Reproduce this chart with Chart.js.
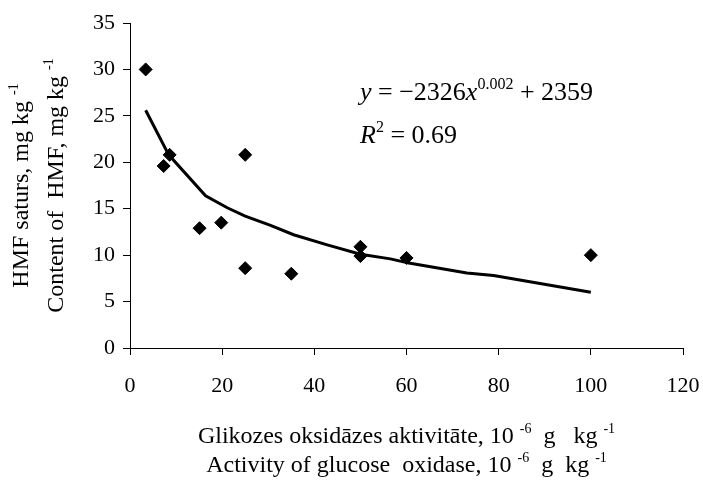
<!DOCTYPE html>
<html>
<head>
<meta charset="utf-8">
<script src="https://cdn.jsdelivr.net/npm/chart.js@4.4.0/dist/chart.umd.min.js"></script>
<style>
  body { margin: 0; background: #fff; }
  #wrap { width: 703px; height: 481px; }
</style>
</head>
<body>
<div id="wrap"><canvas id="chart" width="703" height="481"></canvas></div>
<script>
// measured points: glucose oxidase activity vs HMF content
const activity = [3.4, 7.3, 8.6, 15.1, 19.8, 25, 25, 35, 50, 50, 60, 100];
const hmf = [30, 19.6, 20.8, 12.9, 13.5, 20.8, 8.6, 8.0, 10.9, 9.9, 9.7, 10.0];

// power trendline as drawn in the picture
const trendX = [3.4, 8.4, 16.4, 21.1, 25, 30.5, 35.5, 42.8, 50, 56.5, 60.5, 73.1, 78.9, 100];
const trendY = [25.6, 20.8, 16.4, 15.1, 14.2, 13.2, 12.2, 11.1, 10.1, 9.6, 9.15, 8.08, 7.8, 6.0];

const FONT = "'Liberation Serif', 'Times New Roman', serif";

// text pieces: [text, kind] where kind is '' | 'sup' | 'i'
const yTitle1 = [['HMF saturs, mg kg ', ''], ['-1', 'sup']];
const yTitle2 = [['Content of  HMF, mg kg ', ''], ['-1', 'sup']];
const xTitle1 = [['Glikozes oksidāzes aktivitāte, 10 ', ''], ['-6', 'sup'], ['  g   kg ', ''], ['-1', 'sup']];
const xTitle2 = [['Activity of glucose  oxidase, 10 ', ''], ['-6', 'sup'], ['  g  kg ', ''], ['-1', 'sup']];
const eq1 = [['y', 'i'], [' = \u22122326', ''], ['x', 'i'], ['0.002', 'sup'], [' + 2359', '']];
const eq2 = [['R', 'i'], ['2', 'sup'], [' = 0.69', '']];

function pieceFont(kind, size) {
    if (kind === 'sup') return Math.round(size * 0.6) + 'px ' + FONT;
    if (kind === 'i') return 'italic ' + size + 'px ' + FONT;
    return size + 'px ' + FONT;
}

function richWidth(ctx, pieces, size) {
    let w = 0;
    pieces.forEach(p => { ctx.font = pieceFont(p[1], size); w += ctx.measureText(p[0]).width; });
    return w;
}

// draws at (x, y) baseline; align 'center' or 'left'
function drawRich(ctx, pieces, x, y, size, align) {
    let cx = align === 'center' ? x - richWidth(ctx, pieces, size) / 2 : x;
    ctx.textBaseline = 'alphabetic';
    ctx.textAlign = 'left';
    pieces.forEach(p => {
        ctx.font = pieceFont(p[1], size);
        const dy = p[1] === 'sup' ? -size * 0.42 : 0;
        ctx.fillText(p[0], cx, y + dy);
        cx += ctx.measureText(p[0]).width;
    });
}

const labelsPlugin = {
    id: 'labels',
    afterDraw(chart) {
        const ctx = chart.ctx;
        const area = chart.chartArea;
        const midX = (area.left + area.right) / 2;
        const midY = (area.top + area.bottom) / 2;
        ctx.save();
        ctx.fillStyle = '#000';
        drawRich(ctx, xTitle1, midX, 443, 24, 'center');
        drawRich(ctx, xTitle2, midX, 472, 24, 'center');

        ctx.save();
        ctx.translate(28, midY);
        ctx.rotate(-Math.PI / 2);
        drawRich(ctx, yTitle1, 0, 0, 24, 'center');
        ctx.restore();
        ctx.save();
        ctx.translate(63, midY);
        ctx.rotate(-Math.PI / 2);
        drawRich(ctx, yTitle2, 0, 0, 24, 'center');
        ctx.restore();

        drawRich(ctx, eq1, 360, 100, 26, 'left');
        drawRich(ctx, eq2, 360, 143, 26, 'left');
        ctx.restore();
    }
};

const axisStyle = {
    border: { display: true, color: '#000', width: 1 },
    grid: { display: true, drawOnChartArea: false, drawTicks: true, tickLength: 7, color: '#000' },
};

new Chart(document.getElementById('chart'), {
    type: 'scatter',
    data: {
        datasets: [
            {
                label: 'HMF',
                data: activity.map((x, i) => ({ x: x, y: hmf[i] })),
                pointStyle: 'rectRot',
                pointRadius: 6.5,
                backgroundColor: '#000',
                borderColor: '#000',
                borderWidth: 1,
                order: 1,
            },
            {
                label: 'trend',
                data: trendX.map((x, i) => ({ x: x, y: trendY[i] })),
                showLine: true,
                pointRadius: 0,
                borderColor: '#000',
                borderWidth: 3,
                tension: 0,
                order: 2,
            },
        ],
    },
    options: {
        responsive: false,
        animation: false,
        layout: { padding: { top: 23, right: 20, left: 0, bottom: 0 } },
        plugins: { legend: { display: false }, tooltip: { enabled: false } },
        scales: {
            x: {
                type: 'linear',
                min: 0,
                max: 120,
                ...axisStyle,
                ticks: { stepSize: 20, color: '#000', padding: 18, font: { family: FONT, size: 22 } },
                afterFit: (scale) => {
                    scale.height = 133;
                    scale.paddingLeft = 0;
                    scale.paddingRight = 0;
                },
            },
            y: {
                type: 'linear',
                min: 0,
                max: 35,
                ...axisStyle,
                ticks: { stepSize: 5, color: '#000', padding: 8, font: { family: FONT, size: 22 } },
                afterFit: (scale) => {
                    scale.width = 130;
                    scale.paddingTop = 0;
                    scale.paddingBottom = 0;
                },
            },
        },
    },
    plugins: [labelsPlugin],
});
</script>
</body>
</html>
